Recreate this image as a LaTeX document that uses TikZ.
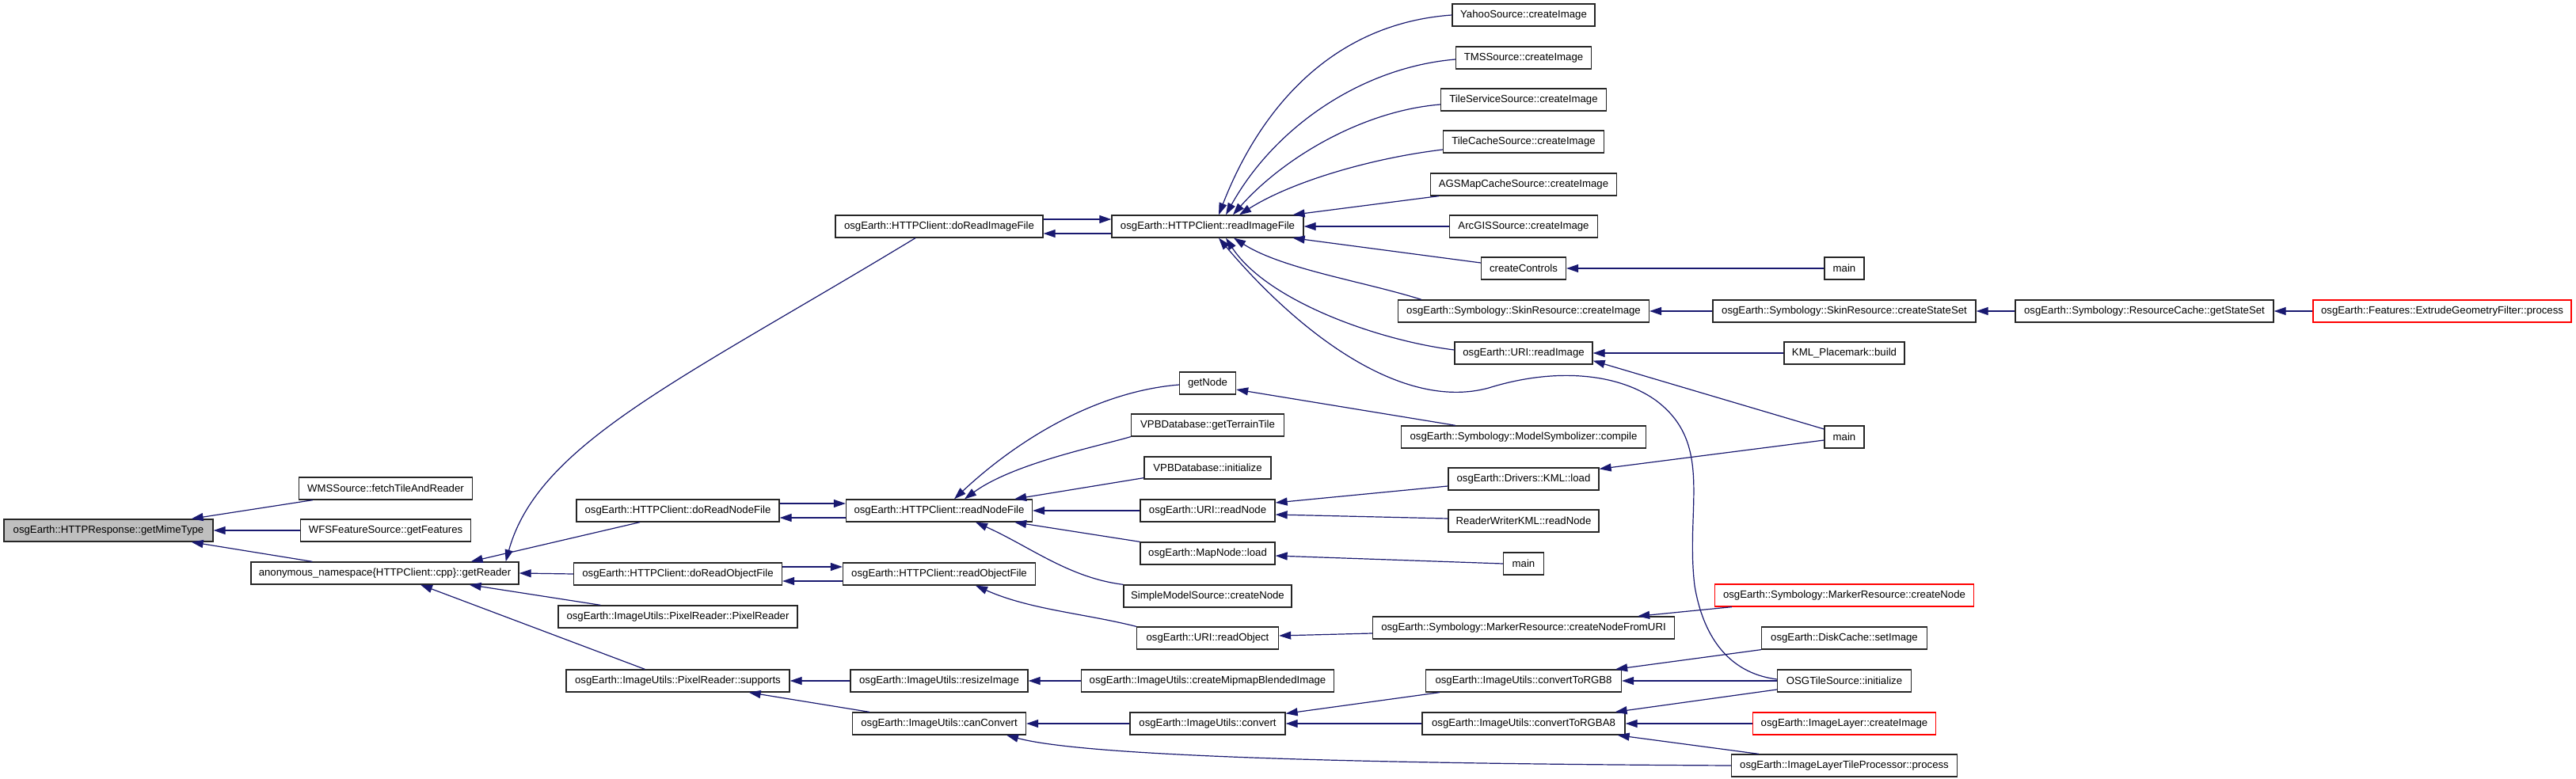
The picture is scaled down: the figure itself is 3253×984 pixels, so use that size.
\documentclass[tikz,border=0pt]{standalone}
\usepackage{fontspec}
\setmainfont{Liberation Sans}
\usepackage{tikz}
\usetikzlibrary{arrows.meta}
\definecolor{navyc}{RGB}{25,25,112}
\definecolor{rootgray}{RGB}{191,191,191}

\begin{document}
\begin{tikzpicture}[x=1pt, y=-1pt,
    fn/.style={draw=black!85, line width=1.3pt, fill=white, minimum height=28pt,
               inner xsep=4pt, inner ysep=0pt, font=\fontsize{13.2}{16}\selectfont},
    root/.style={fill=rootgray},
    ext/.style={draw=red},
    call/.style={draw=navyc, line width=1.2pt, -{Triangle[length=15pt,width=10pt]}}
  ]
    \fill[white] (0,0) rectangle (3253,984);
    \useasboundingbox (0,0) rectangle (3253,984);

    % Root and its callers
    \node[fn, root, minimum width=264pt] (mime) at (137,670) {osgEarth::HTTPResponse::getMimeType};
    \node[fn, minimum width=219pt] (wms) at (487,617) {WMSSource::fetchTileAndReader};
    \node[fn, minimum width=215pt] (wfs) at (487,670) {WFSFeatureSource::getFeatures};
    \node[fn, minimum width=338pt] (reader) at (486,724) {anonymous\_namespace\{HTTPClient::cpp\}::getReader};

    % HTTPClient readers
    \node[fn, minimum width=262pt] (doimg) at (1186,286) {osgEarth::HTTPClient::doReadImageFile};
    \node[fn, minimum width=242pt] (readimg) at (1525,286) {osgEarth::HTTPClient::readImageFile};
    \node[fn, minimum width=256pt] (donode) at (856,645) {osgEarth::HTTPClient::doReadNodeFile};
    \node[fn, minimum width=235pt] (readnode) at (1186,645) {osgEarth::HTTPClient::readNodeFile};
    \node[fn, minimum width=263pt] (doobj) at (856,725) {osgEarth::HTTPClient::doReadObjectFile};
    \node[fn, minimum width=243pt] (readobj) at (1186,725) {osgEarth::HTTPClient::readObjectFile};

    % ImageUtils
    \node[fn, minimum width=302pt] (pixctor) at (856,779) {osgEarth::ImageUtils::PixelReader::PixelReader};
    \node[fn, minimum width=282pt] (supports) at (856,860) {osgEarth::ImageUtils::PixelReader::supports};
    \node[fn, minimum width=224pt] (resize) at (1186,860) {osgEarth::ImageUtils::resizeImage};
    \node[fn, minimum width=219pt] (canconv) at (1186,914) {osgEarth::ImageUtils::canConvert};

    % Third column
    \node[fn, minimum width=71pt] (getnode) at (1525,484) {getNode};
    \node[fn, minimum width=193pt] (terrain) at (1525,537) {VPBDatabase::getTerrainTile};
    \node[fn, minimum width=160pt] (vpbinit) at (1525,591) {VPBDatabase::initialize};
    \node[fn, minimum width=170pt] (urinode) at (1525,645) {osgEarth::URI::readNode};
    \node[fn, minimum width=170pt] (mapload) at (1525,699) {osgEarth::MapNode::load};
    \node[fn, minimum width=212pt] (simple) at (1525,753) {SimpleModelSource::createNode};
    \node[fn, minimum width=179pt] (uriobj) at (1525,806) {osgEarth::URI::readObject};
    \node[fn, minimum width=319pt] (mipmap) at (1525,860) {osgEarth::ImageUtils::createMipmapBlendedImage};
    \node[fn, minimum width=196pt] (convert) at (1525,914) {osgEarth::ImageUtils::convert};

    % Fourth column
    \node[fn, minimum width=180pt] (yahoo) at (1924,19) {YahooSource::createImage};
    \node[fn, minimum width=171pt] (tms) at (1924,73) {TMSSource::createImage};
    \node[fn, minimum width=209pt] (tileserv) at (1924,126) {TileServiceSource::createImage};
    \node[fn, minimum width=203pt] (tilecache) at (1924,179) {TileCacheSource::createImage};
    \node[fn, minimum width=235pt] (ags) at (1924,233) {AGSMapCacheSource::createImage};
    \node[fn, minimum width=187pt] (arcgis) at (1924,286) {ArcGISSource::createImage};
    \node[fn, minimum width=107pt] (controls) at (1924,339) {createControls};
    \node[fn, minimum width=317pt] (skinimg) at (1924,393) {osgEarth::Symbology::SkinResource::createImage};
    \node[fn, minimum width=174pt] (uriimg) at (1924,446) {osgEarth::URI::readImage};
    \node[fn, minimum width=309pt] (compile) at (1924,552) {osgEarth::Symbology::ModelSymbolizer::compile};
    \node[fn, minimum width=190pt] (kmlload) at (1924,605) {osgEarth::Drivers::KML::load};
    \node[fn, minimum width=190pt] (rwkml) at (1924,658) {ReaderWriterKML::readNode};
    \node[fn, minimum width=51pt] (mainc) at (1924,712) {main};
    \node[fn, minimum width=381pt] (fromuri) at (1924,793) {osgEarth::Symbology::MarkerResource::createNodeFromURI};
    \node[fn, minimum width=247pt] (rgb8) at (1924,860) {osgEarth::ImageUtils::convertToRGB8};
    \node[fn, minimum width=256pt] (rgba8) at (1924,914) {osgEarth::ImageUtils::convertToRGBA8};

    % Fifth column and beyond
    \node[fn, minimum width=50pt] (maina) at (2329,339) {main};
    \node[fn, minimum width=332pt] (stateset) at (2329,393) {osgEarth::Symbology::SkinResource::createStateSet};
    \node[fn, minimum width=152pt] (kmlbuild) at (2329,446) {KML\_Placemark::build};
    \node[fn, minimum width=50pt] (mainb) at (2329,552) {main};
    \node[fn, ext, minimum width=327pt] (marker) at (2329,752) {osgEarth::Symbology::MarkerResource::createNode};
    \node[fn, minimum width=209pt] (disk) at (2329,806) {osgEarth::DiskCache::setImage};
    \node[fn, minimum width=169pt] (osgtile) at (2329,860) {OSGTileSource::initialize};
    \node[fn, ext, minimum width=231pt] (layerimg) at (2329,914) {osgEarth::ImageLayer::createImage};
    \node[fn, minimum width=285pt] (tileproc) at (2329,967) {osgEarth::ImageLayerTileProcessor::process};
    \node[fn, minimum width=326pt] (cache) at (2708,393) {osgEarth::Symbology::ResourceCache::getStateSet};
    \node[fn, ext, minimum width=326pt] (extrude) at (3084,393) {osgEarth::Features::ExtrudeGeometryFilter::process};

    % Calls into getMimeType and getReader
    \draw[call] ([xshift=18pt]wms.south west) -- ([xshift=-28pt]mime.north east);
    \draw[call] (wfs.west) -- (mime.east);
    \draw[call] ([xshift=78pt]reader.north west) -- ([xshift=-28pt]mime.south east);
    \draw[call] ([xshift=-30pt]doimg.south) .. controls (860,480) and (680,560) .. ([xshift=-17pt]reader.north east);
    \draw[call] ([xshift=-48pt]donode.south) -- ([xshift=-61pt]reader.north east);
    \draw[call] (doobj.west) -- (reader.east);
    \draw[call] ([xshift=54pt]pixctor.north west) -- ([xshift=-63pt]reader.south east);
    \draw[call] ([xshift=100pt]supports.north west) -- ([xshift=45pt]reader.south);

    % Mutual pairs
    \draw[call] ([yshift=9pt]doimg.east) -- ([yshift=9pt]readimg.west);
    \draw[call] ([yshift=-9pt]readimg.west) -- ([yshift=-9pt]doimg.east);
    \draw[call] ([yshift=9pt]donode.east) -- ([yshift=9pt]readnode.west);
    \draw[call] ([yshift=-9pt]readnode.west) -- ([yshift=-9pt]donode.east);
    \draw[call] ([yshift=9pt]doobj.east) -- ([yshift=9pt]readobj.west);
    \draw[call] ([yshift=-9pt]readobj.west) -- ([yshift=-9pt]doobj.east);

    % Calls into readImageFile
    \draw[call] (yahoo.west) .. controls (1680,30) and (1590,140) .. ([xshift=14pt]readimg.north);
    \draw[call] ([yshift=-2pt]tms.west) .. controls (1720,85) and (1610,160) .. ([xshift=23pt]readimg.north);
    \draw[call] ([yshift=-6pt]tileserv.west) .. controls (1720,140) and (1620,200) .. ([xshift=32pt]readimg.north);
    \draw[call] ([yshift=-10pt]tilecache.west) .. controls (1730,200) and (1630,230) .. ([xshift=40pt]readimg.north);
    \draw[call] ([xshift=11pt]ags.south west) -- ([xshift=-14pt]readimg.north east);
    \draw[call] (arcgis.west) -- (readimg.east);
    \draw[call] ([yshift=7pt]controls.west) -- ([xshift=-14pt]readimg.south east);
    \draw[call] ([xshift=30pt]skinimg.north west) .. controls (1720,355) and (1620,340) .. ([xshift=33pt]readimg.south);
    \draw[call] ([yshift=4pt]uriimg.west) .. controls (1740,430) and (1600,380) .. ([xshift=23pt]readimg.south);
    \draw[call] ([yshift=2pt]osgtile.west) .. controls (2180,850) and (2150,800) .. (2140,740)
      .. controls (2128,640) and (2165,560) .. (2090,505)
      .. controls (2040,470) and (1960,465) .. (1880,490)
      .. controls (1770,520) and (1640,420) .. ([xshift=14pt]readimg.south);

    % Upper chains
    \draw[call] (maina.west) -- (controls.east);
    \draw[call] (stateset.west) -- (skinimg.east);
    \draw[call] (cache.west) -- (stateset.east);
    \draw[call] (extrude.west) -- (cache.east);
    \draw[call] (kmlbuild.west) -- (uriimg.east);
    \draw[call] ([yshift=10pt]mainb.west) -- ([yshift=5pt]uriimg.south east);
    \draw[call] ([yshift=-4pt]mainb.west) -- ([yshift=-2pt]kmlload.north east);

    % Calls into readNodeFile
    \draw[call] ([yshift=-2pt]getnode.west) .. controls (1380,495) and (1280,560) .. ([xshift=19pt]readnode.north);
    \draw[call] (terrain.south west) .. controls (1390,563) and (1280,585) .. ([xshift=32pt]readnode.north);
    \draw[call] ([yshift=2pt]vpbinit.south west) -- ([xshift=-23pt]readnode.north east);
    \draw[call] (urinode.west) -- (readnode.east);
    \draw[call] (mapload.north west) -- ([xshift=-23pt]readnode.south east);
    \draw[call] (simple.north west) .. controls (1350,730) and (1300,690) .. ([xshift=46pt]readnode.south);
    \draw[call] ([xshift=69pt]compile.north west) -- ([yshift=-8pt]getnode.east);
    \draw[call] ([yshift=-9pt]kmlload.west) -- ([yshift=10pt]urinode.east);
    \draw[call] ([yshift=3pt]rwkml.west) -- ([yshift=-5pt]urinode.east);
    \draw[call] (mainc.west) -- ([yshift=-3pt]mapload.east);

    % Calls into readObjectFile
    \draw[call] (uriobj.north west) .. controls (1370,775) and (1300,770) .. ([xshift=46pt]readobj.south);
    \draw[call] ([yshift=-7pt]fromuri.west) -- ([yshift=3pt]uriobj.east);
    \draw[call] ([xshift=22pt]marker.south west) -- ([xshift=-47pt]fromuri.north east);

    % ImageUtils calls
    \draw[call] (resize.west) -- (supports.east);
    \draw[call] ([xshift=22pt]canconv.north west) -- ([xshift=-52pt]supports.south east);
    \draw[call] (mipmap.west) -- (resize.east);
    \draw[call] (convert.west) -- (canconv.east);
    \draw[call] (tileproc.west) .. controls (1800,965) and (1380,958) .. ([xshift=85pt]canconv.south);
    \draw[call] ([xshift=18pt]rgb8.south west) -- ([yshift=-2pt]convert.north east);
    \draw[call] (rgba8.west) -- (convert.east);
    \draw[call] (disk.south west) -- ([xshift=-8pt]rgb8.north east);
    \draw[call] (osgtile.west) -- (rgb8.east);
    \draw[call] ([yshift=-11pt]osgtile.west) -- ([xshift=-13pt]rgba8.north east);
    \draw[call] (layerimg.west) -- (rgba8.east);
    \draw[call] ([xshift=35pt]tileproc.north west) -- ([xshift=-10pt]rgba8.south east);
  \end{tikzpicture}
\end{document}
